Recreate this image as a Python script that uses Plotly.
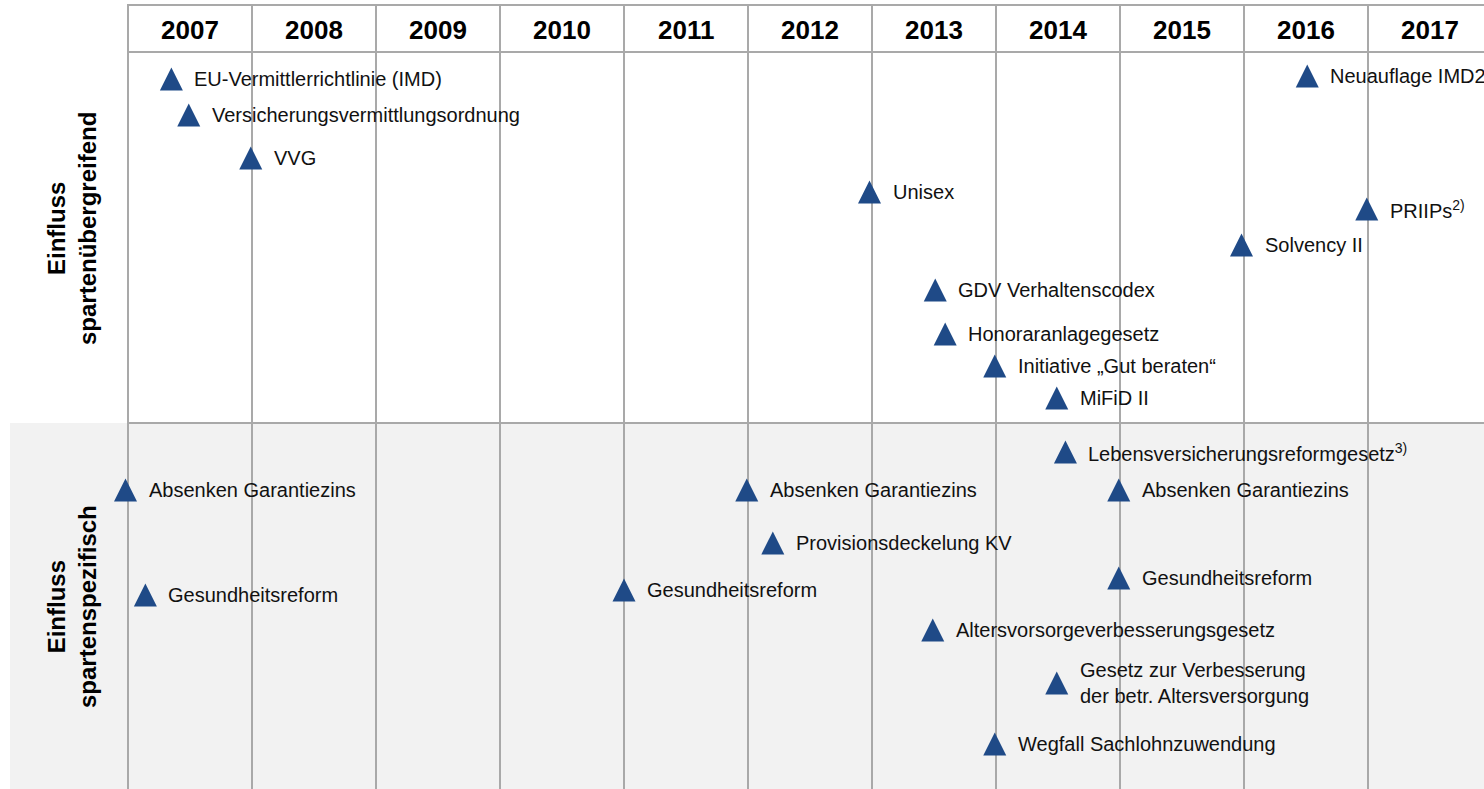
import plotly.graph_objects as go

# ---------------- data ----------------
years = [2007, 2008, 2009, 2010, 2011, 2012, 2013, 2014, 2015, 2016, 2017]

# events: label, date (fractional year), vertical level (row position, top = 0)
top_labels = [
    "EU-Vermittlerrichtlinie (IMD)",
    "Versicherungsvermittlungsordnung",
    "VVG",
    "Unisex",
    "Neuauflage IMD2",
    "PRIIPs<sup>2)</sup>",
    "Solvency II",
    "GDV Verhaltenscodex",
    "Honoraranlagegesetz",
    "Initiative „Gut beraten“",
    "MiFiD II",
]
top_dates = [2007.35, 2007.49, 2007.99, 2012.98, 2016.51, 2016.99, 2015.98, 2013.51, 2013.59, 2013.99, 2014.49]
top_levels = [79, 115, 158, 192, 76, 209, 245, 290, 334, 366, 398]

bottom_labels = [
    "Lebensversicherungsreformgesetz<sup>3)</sup>",
    "Absenken Garantiezins",
    "Absenken Garantiezins",
    "Absenken Garantiezins",
    "Provisionsdeckelung KV",
    "Gesundheitsreform",
    "Gesundheitsreform",
    "Gesundheitsreform",
    "Altersvorsorgeverbesserungsgesetz",
    "Gesetz zur Verbesserung<br>der betr. Altersversorgung",
    "Wegfall Sachlohnzuwendung",
]
bottom_dates = [2014.56, 2006.98, 2011.99, 2014.99, 2012.2, 2007.14, 2011.0, 2014.99, 2013.49, 2014.49, 2013.99]
bottom_levels = [452, 490, 490, 490, 543, 595, 590, 578, 630, 683, 744]

section_labels = ["<b>Einfluss<br>spartenübergreifend</b>", "<b>Einfluss<br>spartenspezifisch</b>"]

# ---------------- layout constants ----------------
W, H = 1484, 789
PX_PER_YEAR = 124
X0_PX = 128                  # pixel of the first year boundary
x_min = years[0] - X0_PX / PX_PER_YEAR
x_max = x_min + W / PX_PER_YEAR
HEADER_TOP, HEADER_BOTTOM, SECTION_SPLIT = 5, 52, 423
TRI = 23
GRID = "#a9a9a9"
BLUE = "#1f4a87"
FONT = "Arial, Liberation Sans, sans-serif"

fig = go.Figure()

labels = top_labels + bottom_labels
dates = top_dates + bottom_dates
levels = top_levels + bottom_levels

# triangles (arrow-up marker has its tip at the data point)
fig.add_trace(go.Scatter(
    x=dates,
    y=[lv - TRI / 2 for lv in levels],
    mode="markers",
    marker=dict(symbol="arrow-up", size=TRI, color=BLUE, line=dict(width=0)),
    hoverinfo="skip",
    showlegend=False,
    cliponaxis=False,
))

shapes = []
# grey background for lower section
shapes.append(dict(type="rect", xref="paper", yref="y", x0=10 / W, x1=1.05, y0=SECTION_SPLIT, y1=H + 5,
                   fillcolor="#f2f2f2", line=dict(width=0), layer="below"))
# vertical year boundaries
for yr in years + [years[-1] + 1]:
    shapes.append(dict(type="line", xref="x", yref="y", x0=yr, x1=yr, y0=HEADER_TOP - 1, y1=H + 5,
                       line=dict(color=GRID, width=2), layer="below"))
# horizontal lines
for yy in [HEADER_TOP, HEADER_BOTTOM, SECTION_SPLIT]:
    shapes.append(dict(type="line", xref="x", yref="y", x0=years[0], x1=x_max + 1, y0=yy, y1=yy,
                       line=dict(color=GRID, width=2), layer="below"))

annotations = []
# year headers
for yr in years:
    annotations.append(dict(x=yr + 0.5, y=(HEADER_TOP + HEADER_BOTTOM) / 2 + 1.5, xref="x", yref="y",
                            text=f"<b>{yr}</b>", showarrow=False,
                            font=dict(family=FONT, size=26, color="#000000")))
# event labels
for lab, d, lv in zip(labels, dates, levels):
    annotations.append(dict(x=d, y=lv, xref="x", yref="y", text=lab, showarrow=False,
                            xanchor="left", yanchor="middle", align="left", xshift=21, yshift=0,
                            font=dict(family=FONT, size=20, color="#111111")))
# section labels
for lab, yc in zip(section_labels, [229, 607]):
    annotations.append(dict(x=72 / W, y=yc, xref="paper", yref="y", text=lab, showarrow=False,
                            textangle=-90, xanchor="center", yanchor="middle",
                            font=dict(family=FONT, size=24, color="#000000")))

fig.update_layout(
    width=W, height=H,
    margin=dict(l=0, r=0, t=0, b=0),
    paper_bgcolor="white", plot_bgcolor="rgba(0,0,0,0)",
    xaxis=dict(range=[x_min, x_max], visible=False, fixedrange=True),
    yaxis=dict(range=[H, 0], visible=False, fixedrange=True),
    shapes=shapes,
    annotations=annotations,
    showlegend=False,
)

fig.write_html("out.html", config={"displayModeBar": False},
               post_script="document.body.style.margin='0';")
